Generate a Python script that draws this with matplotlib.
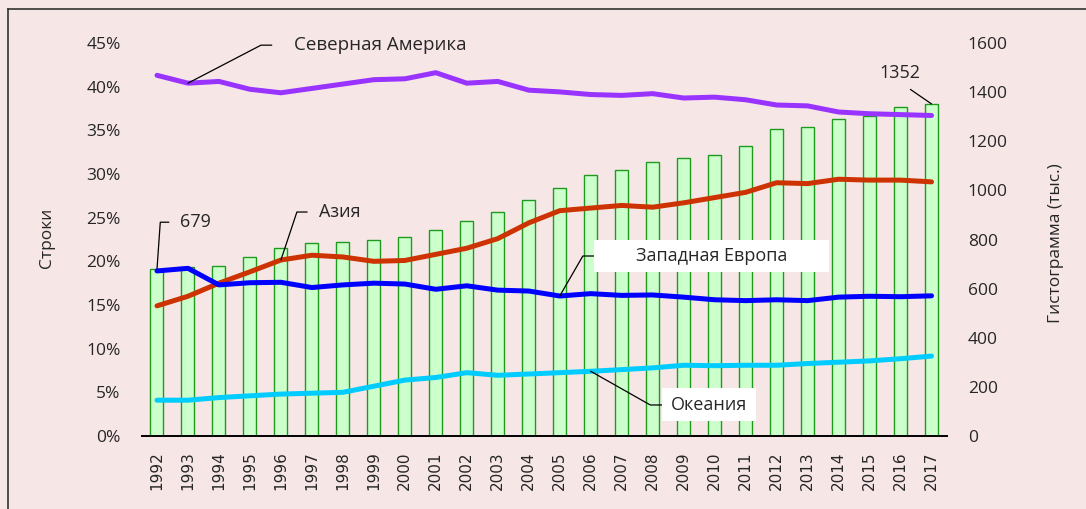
import matplotlib
matplotlib.use("Agg")
import matplotlib.pyplot as plt
from matplotlib.path import Path
from matplotlib.lines import Line2D
from matplotlib.ticker import FuncFormatter

# === Data ===
years = [str(y) for y in range(1992, 2018)]
histogram = [679, 688, 692, 728, 764, 784, 790, 797, 811, 837, 874, 911, 961,
             1011, 1063, 1084, 1117, 1132, 1143, 1182, 1249, 1258, 1289, 1303, 1338, 1352]
north_america = [41.3, 40.4, 40.6, 39.7, 39.3, 39.8, 40.3, 40.8, 40.9, 41.6, 40.4, 40.6, 39.6,
                 39.4, 39.1, 39.0, 39.2, 38.7, 38.8, 38.5, 37.9, 37.8, 37.1, 36.9, 36.8, 36.7]
asia = [14.9, 16.0, 17.5, 18.8, 20.15, 20.7, 20.5, 20.0, 20.1, 20.8, 21.5, 22.6, 24.4,
        25.8, 26.1, 26.4, 26.2, 26.7, 27.3, 27.9, 29.0, 28.9, 29.4, 29.3, 29.3, 29.1]
west_europe = [18.9, 19.2, 17.3, 17.55, 17.6, 17.0, 17.3, 17.5, 17.4, 16.8, 17.2, 16.7, 16.6,
               16.03, 16.3, 16.1, 16.15, 15.9, 15.6, 15.5, 15.6, 15.5, 15.9, 16.0, 15.95, 16.05]
oceania = [4.1, 4.1, 4.4, 4.6, 4.8, 4.9, 5.0, 5.7, 6.4, 6.7, 7.25, 6.95, 7.1,
           7.25, 7.41, 7.6, 7.8, 8.1, 8.05, 8.1, 8.1, 8.3, 8.45, 8.6, 8.85, 9.15]

# === Params ===
bg = "#F6E6E6"
text_col = "#262626"
lw = 3.6

plt.rcParams["font.family"] = ["Open Sans", "DejaVu Sans"]

fig = plt.figure(figsize=(10.86, 5.09), dpi=100, facecolor=bg)
W, H = 1086, 509
left, right, top, bottom = 141.5, 947, 43, 436
axb = fig.add_axes([left / W, 1 - bottom / H, (right - left) / W, (bottom - top) / H])
axb.set_facecolor(bg)

x = list(range(len(years)))
axb.bar(x, histogram, width=0.42, color="#CCFFCC", edgecolor="#1E9A1E", linewidth=1.0, zorder=2)
axb.set_ylim(0, 1600)
axb.set_yticks(range(0, 1601, 200))
axb.set_xlim(-0.5, len(years) - 0.5)
axb.set_xticks(x)
axb.set_xticklabels(years, rotation=90, family="DejaVu Sans", fontsize=11, color=text_col)
axb.tick_params(axis="x", length=0, pad=11)
for s in ["left", "right", "top"]:
    axb.spines[s].set_visible(False)
axb.spines["bottom"].set_linewidth(1.4)
axb.spines["bottom"].set_color("black")

axl = axb.twinx()
# twinx moves the host ticks to the left, so swap sides afterwards
axl.yaxis.tick_left()
axb.yaxis.tick_right()
axb.tick_params(axis="y", length=0, pad=15, labelsize=12.5, labelcolor=text_col)

axl.plot(x, north_america, color="#9933FF", lw=lw, solid_capstyle="round", zorder=3)
axl.plot(x, asia, color="#CC3300", lw=lw, solid_capstyle="round", zorder=3)
axl.plot(x, west_europe, color="#0000FF", lw=lw, solid_capstyle="round", zorder=4)
axl.plot(x, oceania, color="#00CCFF", lw=lw, solid_capstyle="round", zorder=3)
axl.set_ylim(0, 45)
axl.set_yticks(range(0, 46, 5))
axl.yaxis.set_major_formatter(FuncFormatter(lambda v, p: f"{v:.0f}%"))
axl.tick_params(axis="y", length=0, pad=15, labelsize=12.5, labelcolor=text_col)
for s in axl.spines.values():
    s.set_visible(False)

fig.text(47 / W, 1 - 238 / H, "Строки", rotation=90, ha="center", va="center",
         fontsize=12.5, color=text_col)
fig.text(1056 / W, 1 - 243 / H, "Гистограмма (тыс.)", rotation=90, ha="center", va="center",
         fontsize=12.5, color=text_col)


def fixed_box(w, h):
    def style(x0, y0, width, height, mutation_size):
        cx = x0 + width / 2
        cy = y0 + height / 2
        return Path([(cx - w / 2, cy - h / 2), (cx + w / 2, cy - h / 2),
                     (cx + w / 2, cy + h / 2), (cx - w / 2, cy + h / 2),
                     (cx - w / 2, cy - h / 2)], closed=True)
    return style


def label(ax, text, xy, off, angle, shrink=0, box=None, size=13):
    props = dict(arrowstyle="-", color="black", lw=0.9, shrinkA=shrink, shrinkB=0,
                 relpos=(0, 0.5), connectionstyle=f"angle,angleA=0,angleB={angle},rad=0")
    kw = {}
    if box is not None:
        kw["bbox"] = dict(boxstyle=fixed_box(*box), fc="white", ec="none")
        ha = "center"
    else:
        ha = "left"
    ax.annotate(text, xy=xy, xytext=off, textcoords="offset pixels", ha=ha, va="center",
                fontsize=size, color=text_col, arrowprops=props, zorder=6, **kw)


label(axl, "Северная Америка", (1, north_america[1]), (106, 38), 27.5, shrink=14, size=13.5)
label(axb, str(histogram[0]), (0, histogram[0]), (23, 47), 86, shrink=6)
label(axl, "Азия", (4, asia[4]), (38, 48), 71.6, shrink=6.5)
label(axl, "Западная Европа", (13, west_europe[13]), (151.5, 40), 60, box=(235, 32))
label(axl, "Океания", (14, oceania[14]), (118.5, -33.7), -29.5, box=(94, 33))

axb.annotate(str(histogram[-1]), xy=(25, histogram[-1]), xytext=(-32, 31),
             textcoords="offset pixels", ha="center", va="center", fontsize=13, color=text_col,
             arrowprops=dict(arrowstyle="-", color="black", lw=0.9, shrinkA=6, shrinkB=0,
                             relpos=(0.5, 0)))

# outer frame (top and left edges)
fig.add_artist(Line2D([8 / W, 8 / W], [0, 1 - 9 / H], color="#333333", lw=1.2))
fig.add_artist(Line2D([8 / W, 1], [1 - 9 / H, 1 - 9 / H], color="#333333", lw=1.2))

fig.savefig("out.png", dpi=100, facecolor=bg)
